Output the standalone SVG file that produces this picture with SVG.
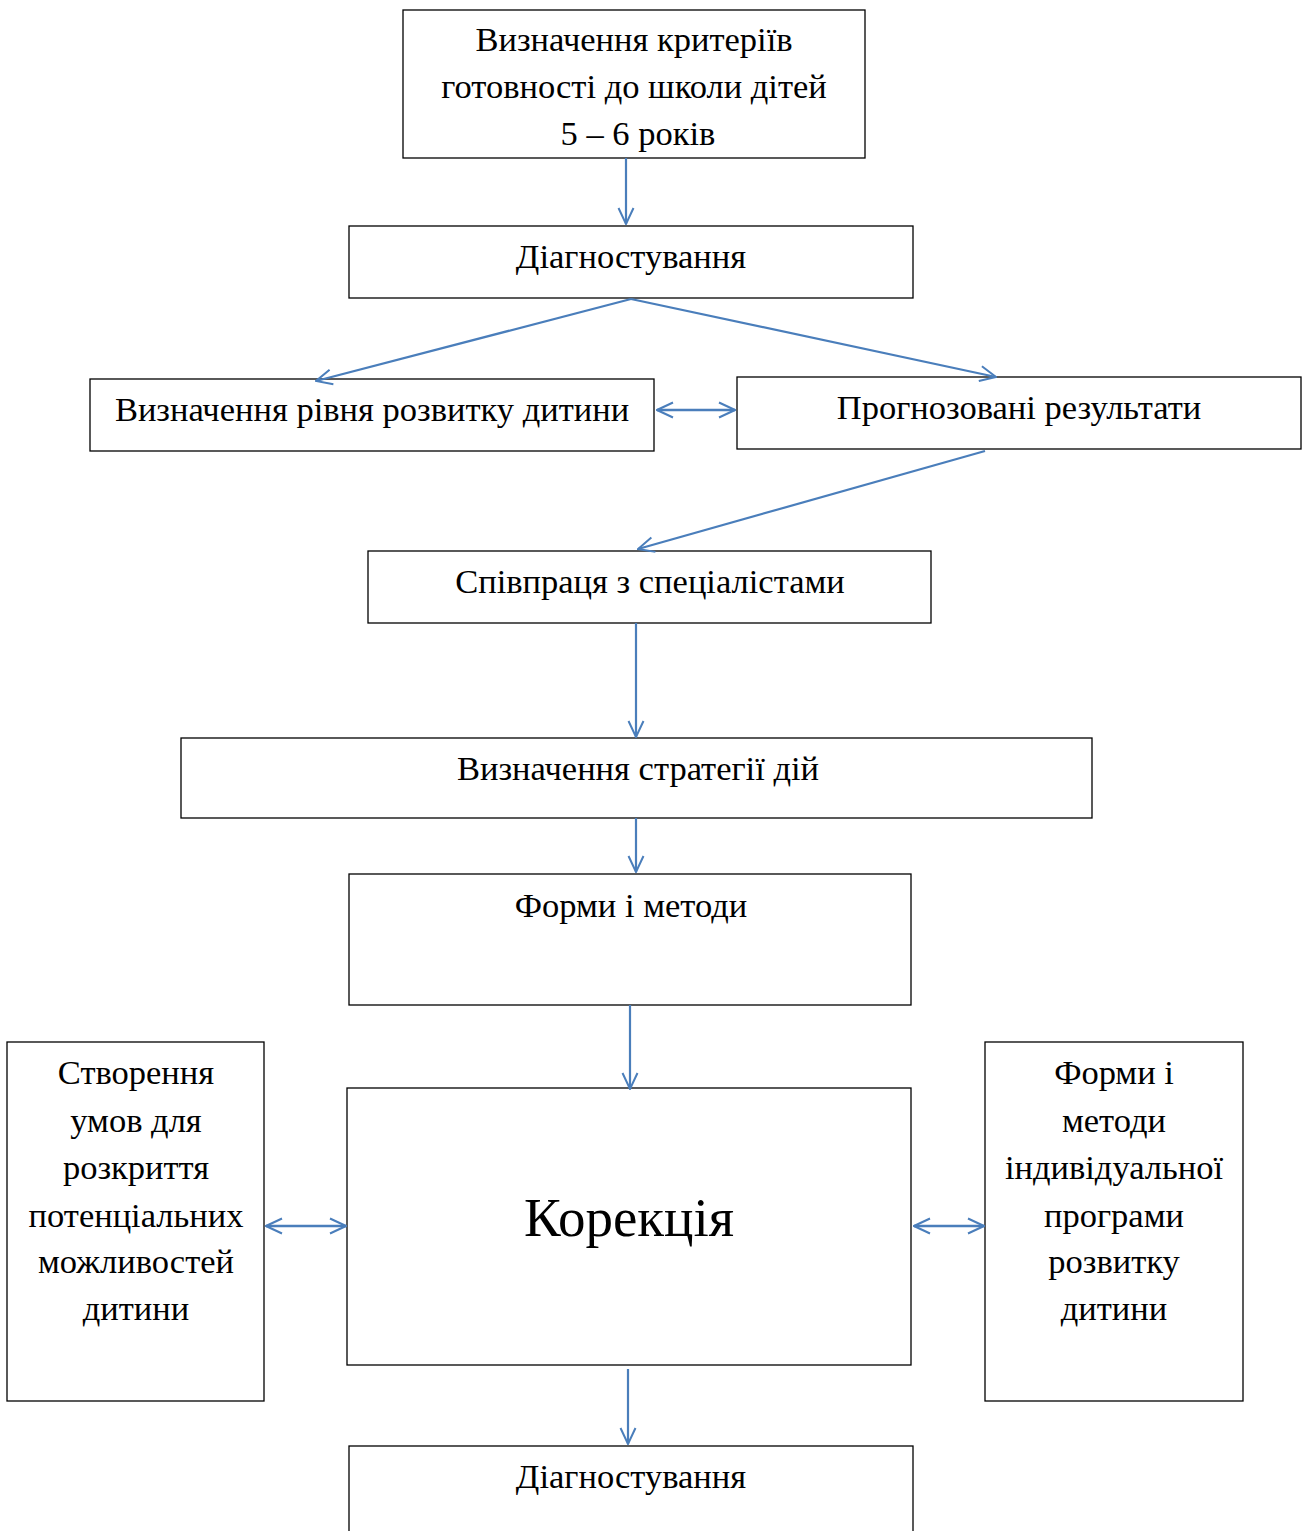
<svg xmlns="http://www.w3.org/2000/svg" width="1304" height="1531" viewBox="0 0 1304 1531">
<style>
.box{fill:#fff;stroke:#000;stroke-width:1.3}
.t{font-family:"Liberation Serif","Times New Roman",serif;font-size:34.5px;fill:#000;text-anchor:middle}
.big{font-size:55px}
.c{stroke:#4a7ebb;stroke-width:2.2;fill:none}
.c2{stroke-width:2.6}
</style>
<defs>
<marker id="ah2" viewBox="0 0 18 18" refX="17" refY="9" markerWidth="18" markerHeight="18" markerUnits="userSpaceOnUse" orient="auto-start-reverse">
<path d="M1,1.5 L17,9 L1,16.5" fill="none" stroke="#4a7ebb" stroke-width="2"/>
</marker>
</defs>
<g id="n1"><rect class="box" x="403" y="10" width="462" height="148"/>
<text class="t" x="634" y="51">Визначення критеріїв</text>
<text class="t" x="634" y="98">готовності до школи дітей</text>
<text class="t" x="638" y="145">5 – 6 років</text></g>
<g id="n2"><rect class="box" x="349" y="226" width="564" height="72"/>
<text class="t" x="631" y="268">Діагностування</text></g>
<g id="n3"><rect class="box" x="90" y="379" width="564" height="72"/>
<text class="t" x="372" y="421">Визначення рівня розвитку дитини</text></g>
<g id="n4"><rect class="box" x="737" y="377" width="564" height="72"/>
<text class="t" x="1019" y="419">Прогнозовані результати</text></g>
<g id="n5"><rect class="box" x="368" y="551" width="563" height="72"/>
<text class="t" x="650" y="593">Співпраця з спеціалістами</text></g>
<g id="n6"><rect class="box" x="181" y="738" width="911" height="80"/>
<text class="t" x="638" y="780">Визначення стратегії дій</text></g>
<g id="n7"><rect class="box" x="349" y="874" width="562" height="131"/>
<text class="t" x="631" y="917">Форми і методи</text></g>
<g id="n8"><rect class="box" x="347" y="1088" width="564" height="277"/>
<text class="t big" x="629" y="1236">Корекція</text></g>
<g id="n9"><rect class="box" x="7" y="1042" width="257" height="359"/>
<text class="t" x="136" y="1084">Створення</text>
<text class="t" x="136" y="1132">умов для</text>
<text class="t" x="136" y="1179">розкриття</text>
<text class="t" x="136" y="1227">потенціальних</text>
<text class="t" x="136" y="1273">можливостей</text>
<text class="t" x="136" y="1320">дитини</text></g>
<g id="n10"><rect class="box" x="985" y="1042" width="258" height="359"/>
<text class="t" x="1114" y="1084">Форми і</text>
<text class="t" x="1114" y="1132">методи</text>
<text class="t" x="1114" y="1179">індивідуальної</text>
<text class="t" x="1114" y="1227">програми</text>
<text class="t" x="1114" y="1273">розвитку</text>
<text class="t" x="1114" y="1320">дитини</text></g>
<g id="n11"><rect class="box" x="349" y="1446" width="564" height="100"/>
<text class="t" x="631" y="1488">Діагностування</text></g>
<g id="connectors">
<line class="c" x1="626" y1="158" x2="626" y2="224" marker-end="url(#ah2)"/>
<line class="c" x1="631" y1="299" x2="316" y2="381" marker-end="url(#ah2)"/>
<line class="c" x1="631" y1="299" x2="996" y2="377" marker-end="url(#ah2)"/>
<line class="c c2" x1="657" y1="410" x2="735" y2="410" marker-start="url(#ah2)" marker-end="url(#ah2)"/>
<line class="c" x1="985" y1="451" x2="638" y2="549" marker-end="url(#ah2)"/>
<line class="c" x1="636" y1="623" x2="636" y2="737" marker-end="url(#ah2)"/>
<line class="c" x1="636" y1="818" x2="636" y2="872" marker-end="url(#ah2)"/>
<line class="c" x1="630" y1="1005" x2="630" y2="1089" marker-end="url(#ah2)"/>
<line class="c c2" x1="266" y1="1226" x2="346" y2="1226" marker-start="url(#ah2)" marker-end="url(#ah2)"/>
<line class="c c2" x1="914" y1="1226" x2="984" y2="1226" marker-start="url(#ah2)" marker-end="url(#ah2)"/>
<line class="c" x1="628" y1="1369" x2="628" y2="1444" marker-end="url(#ah2)"/>
</g>
</svg>
